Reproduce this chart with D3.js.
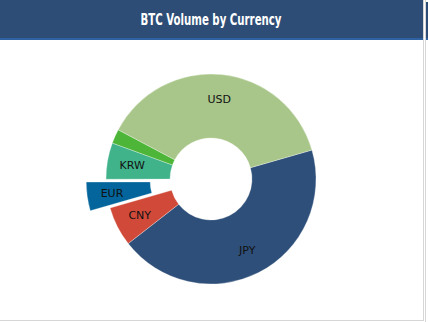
<!DOCTYPE html>
<html><head><meta charset="utf-8">
<script src="https://cdn.jsdelivr.net/npm/d3@7"></script>
<style>
html,body{margin:0;padding:0;background:#fff;overflow:hidden;}
svg{display:block;}
</style></head>
<body>
<svg id="c" width="428" height="322"></svg>
<script>
const title = "BTC Volume by Currency";
const currencies = ["JPY", "CNY", "EUR", "KRW", "GBP", "USD"];
const volumes = [43.9, 6.1, 4.4, 5.6, 2.2, 37.8];
const colors = ["#2e4f79", "#d14a39", "#03659b", "#41b38b", "#4db638", "#a9c68a"];
const exploded = ["EUR"];
const showLabelMin = 3;

const svg = d3.select("#c");
// panel borders (right and bottom)
svg.append("line").attr("x1", 423.5).attr("x2", 423.5).attr("y1", 0).attr("y2", 321)
  .attr("stroke", "#d6d6d6").attr("stroke-width", 1);
svg.append("line").attr("x1", 0).attr("x2", 424).attr("y1", 320.5).attr("y2", 320.5)
  .attr("stroke", "#d6d6d6").attr("stroke-width", 1);
svg.append("rect").attr("x", 0).attr("y", 0).attr("width", 423).attr("height", 38).attr("fill", "#2d4d76");
svg.append("rect").attr("x", 0).attr("y", 38).attr("width", 423).attr("height", 2).attr("fill", "#2f62a3");
// neighbouring panel edge
svg.append("line").attr("x1", 425.5).attr("x2", 425.5).attr("y1", 0).attr("y2", 322)
  .attr("stroke", "#d6d6d6").attr("stroke-width", 1);
svg.append("rect").attr("x", 426).attr("y", 2).attr("width", 2).attr("height", 36).attr("fill", "#2d4d76");
svg.append("rect").attr("x", 426).attr("y", 38).attr("width", 2).attr("height", 2).attr("fill", "#2f62a3");

svg.append("text").attr("x", 211).attr("y", 25).attr("text-anchor", "middle")
  .attr("fill", "#fff").attr("font-family", "'DejaVu Sans Condensed','DejaVu Sans',sans-serif")
  .attr("font-weight", "bold").attr("font-size", 16)
  .attr("textLength", 141).attr("lengthAdjust", "spacingAndGlyphs").text(title);

const data = currencies.map((c, i) => ({name: c, value: volumes[i], color: colors[i]}));
const cx = 211, cy = 179, rOuter = 105, rInner = 41;
const startA = 74 * Math.PI / 180;
const pie = d3.pie().sort(null).value(d => d.value).startAngle(startA).endAngle(startA + 2 * Math.PI);
const arc = d3.arc().innerRadius(rInner).outerRadius(rOuter);
const labelArc = d3.arc().innerRadius(80).outerRadius(80);
const g = svg.append("g").attr("transform", `translate(${cx},${cy})`);
const arcs = pie(data);
const slice = g.selectAll("g.s").data(arcs).join("g").attr("class", "s")
  .attr("transform", d => {
    if (exploded.includes(d.data.name)) {
      const m = (d.startAngle + d.endAngle) / 2;
      return `translate(${20 * Math.sin(m)},${-20 * Math.cos(m)})`;
    }
    return null;
  });
slice.append("path").attr("d", arc).attr("fill", d => d.data.color)
  .attr("stroke", "#fff").attr("stroke-width", 0.5).attr("stroke-opacity", 0.6);
slice.filter(d => d.data.value >= showLabelMin).append("text")
  .attr("transform", d => `translate(${labelArc.centroid(d)})`)
  .attr("text-anchor", "middle").attr("dy", "0.35em")
  .attr("font-family", "'DejaVu Sans',Verdana,sans-serif").attr("font-size", 11)
  .attr("fill", "#111").text(d => d.data.name);
</script>
</body></html>
